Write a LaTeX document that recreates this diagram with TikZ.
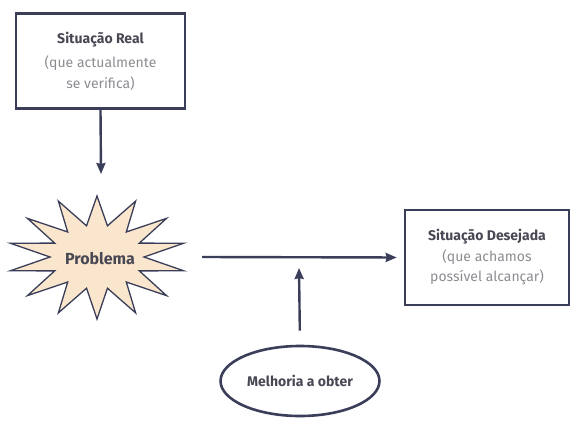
\documentclass[tikz,border=0pt]{standalone}
\usepackage{fontspec}
\setmainfont{Fira Sans}
\usetikzlibrary{positioning,arrows.meta,shapes.geometric}
\definecolor{linha}{RGB}{58,62,88}
\definecolor{titulo}{RGB}{72,72,84}
\definecolor{nota}{RGB}{140,140,146}
\definecolor{estrela}{RGB}{250,230,204}

\begin{document}
\begin{tikzpicture}[x=1pt, y=-1pt,
  caixa/.style={draw=linha, line width=2.6pt, minimum width=169pt, minimum height=95pt, align=center, font=\fontsize{14}{20.5}\selectfont},
  seta/.style={draw=linha, line width=2.4pt, -{Stealth[length=11pt,width=9pt,inset=1pt]}}]
\useasboundingbox (0,0) rectangle (572,420);
\node[caixa](real) at (100.5,61){\textcolor{titulo}{\textbf{Situação Real}}\\[4pt]\textcolor{nota}{(que actualmente}\\\textcolor{nota}{se verifica)}};
\node[caixa, minimum width=164pt](desejada) at (487,257.5){\textcolor{titulo}{\textbf{Situação Desejada}}\\\textcolor{nota}{(que achamos}\\\textcolor{nota}{possível alcançar)}};
%star
\draw[draw=linha, line width=1.3pt, fill=estrela, line join=miter]
  (97,196) \foreach \i in {1,...,27}{
    -- ({97+ifthenelse(mod(\i,2)==0,89,47)*cos(90+\i*360/28)}, {257-ifthenelse(mod(\i,2)==0,62,32)*sin(90+\i*360/28)})
  } -- cycle;
\node[font=\fontsize{16}{18}\selectfont\bfseries, text=titulo](problema) at (100,259){Problema};
\node[draw=linha, line width=2.6pt, ellipse, minimum width=154pt, minimum height=70pt, font=\fontsize{14}{16}\selectfont\bfseries, text=titulo](melhoria) at (300,381){Melhoria a obter};
%path
\coordinate (inicio) at (202,257);
\coordinate (meio) at (299,268);
\path[seta](real.south)--(101,174);
\path[seta, shorten >=7pt](inicio)--(desejada.west);
\path[seta, shorten <=14pt](melhoria.north)--(meio);
\end{tikzpicture}
\end{document}
